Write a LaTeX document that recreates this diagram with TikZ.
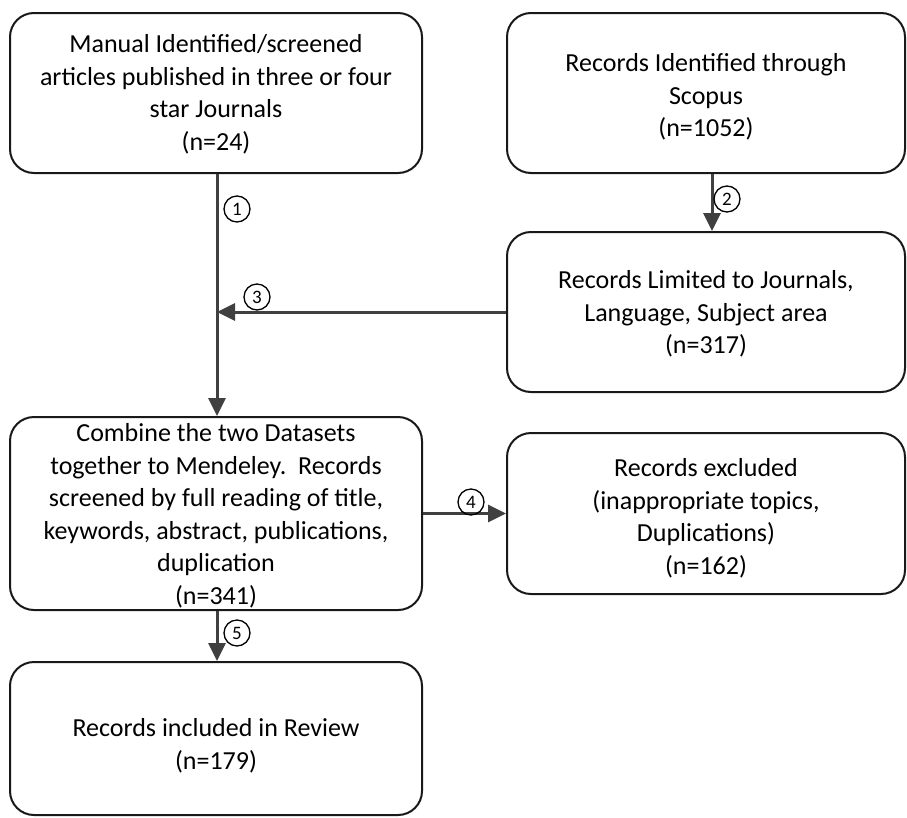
\documentclass[tikz,border=0pt]{standalone}
\usepackage{fontspec}
\setmainfont{Carlito}
\usetikzlibrary{
    positioning,
    arrows.meta
}
\tikzset{
    % 共通のブロックスタイル
    block/.style={
        rectangle,
        rounded corners=24pt,
        draw=black!90,
        line width=2pt,
        fill=white,
        align=center,
        inner sep=0pt,
        font=\fontsize{26}{32.5}\selectfont
    },
    % 矢印のスタイル
    arrow/.style={
        -{Triangle[length=18pt, width=17pt]},
        color=black!75,
        line width=3pt
    },
    % 丸数字
    num/.style={
        circle,
        draw=black,
        line width=1.3pt,
        minimum size=26pt,
        inner sep=0pt,
        font=\fontsize{19}{19}\selectfont
    }
}
\begin{document}
\begin{tikzpicture}[x=1pt, y=-1pt]
    \useasboundingbox (0,0) rectangle (907,817);

    % Boxes
    \node[block, minimum width=412pt, minimum height=160pt] (man) at (216,93)
        {\rule{0pt}{21pt}Manual Identified/screened\\articles published in three or four\\star Journals\\(n=24)};
    \node[block, minimum width=398pt, minimum height=160pt] (scop) at (706,93)
        {\rule{0pt}{26.5pt}Records Identified through\\Scopus\\(n=1052)};
    \node[block, minimum width=398pt, minimum height=160pt] (lim) at (706,312)
        {\rule{0pt}{22pt}Records Limited to Journals,\\Language, Subject area\\(n=317)};
    \node[block, minimum width=412pt, minimum height=193pt] (comb) at (216,513.5)
        {\rule{0pt}{23pt}Combine the two Datasets\\together to Mendeley.\ \ Records\\screened by full reading of title,\\keywords, abstract, publications,\\duplication\\(n=341)};
    \node[block, minimum width=398pt, minimum height=161pt] (excl) at (706,513.5)
        {\rule{0pt}{27.5pt}Records excluded\\(inappropriate topics,\\Duplications)\\(n=162)};
    \node[block, minimum width=412pt, minimum height=153pt] (incl) at (216,738.5)
        {\rule{0pt}{32.5pt}Records included in Review\\(n=179)};

    % Arrows
    \coordinate (join) at (217,312);
    \draw[arrow] (man.south -| join) -- (comb.north -| join);
    \draw[arrow] ([xshift=6pt]scop.south) -- ([xshift=6pt]lim.north);
    \draw[arrow] (lim.west) -- (join);
    \draw[arrow] (comb.east) -- (excl.west);
    \draw[arrow] (comb.south -| join) -- (incl.north -| join);

    % Numbers
    \node[num] (c1) at (237,209) {1};
    \node[num] (c2) at (727,199) {2};
    \node[num] (c3) at (257,297) {3};
    \node[num] (c4) at (471,502) {4};
    \node[num] (c5) at (237,633) {5};
\end{tikzpicture}
\end{document}
